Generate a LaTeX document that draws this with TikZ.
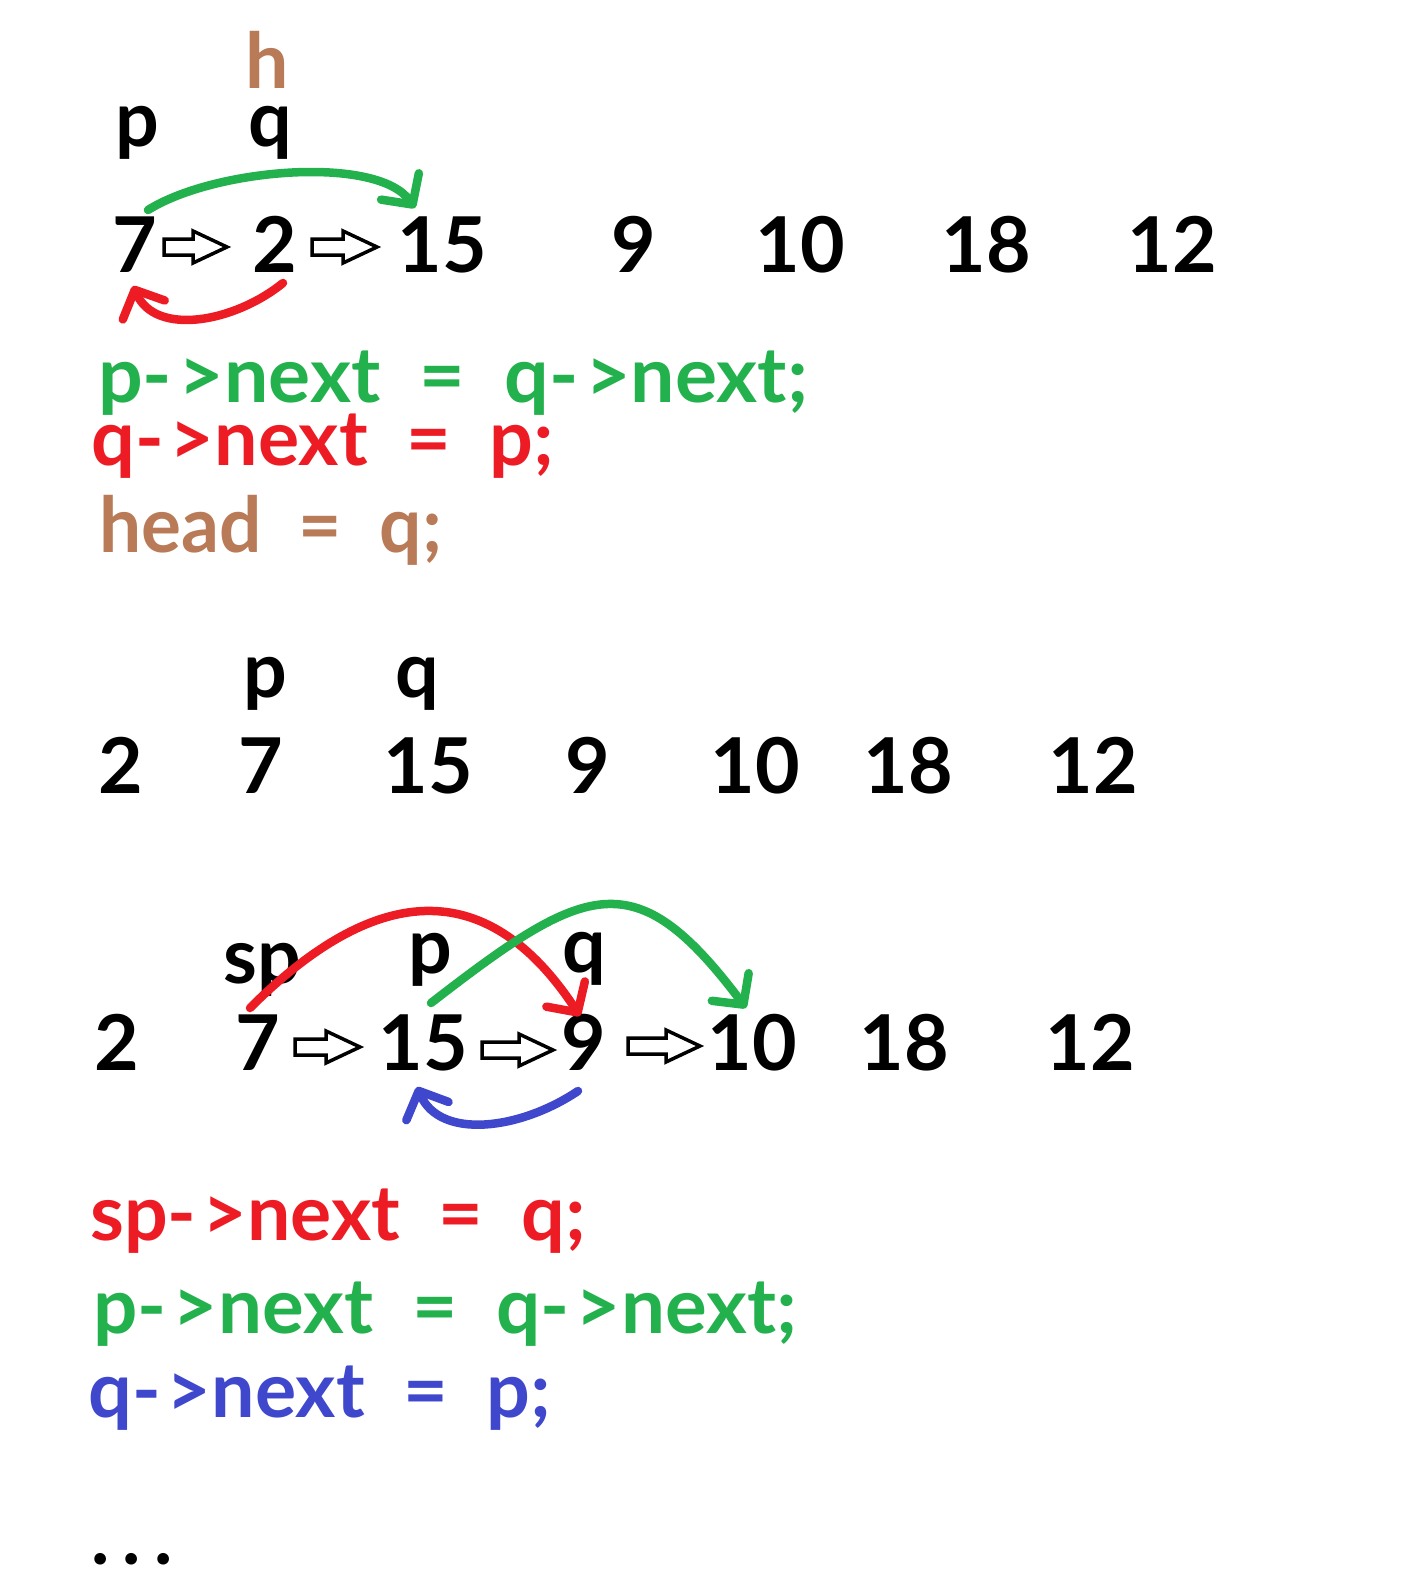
\documentclass[tikz,border=0pt]{standalone}
\usepackage{fontspec}
\setmainfont{Lato}
\usepackage{graphicx}
\usetikzlibrary{arrows.meta}
\definecolor{pgreen}{HTML}{22B14C}
\definecolor{pred}{HTML}{ED1C24}
\definecolor{pbrown}{HTML}{B97A57}
\definecolor{pblue}{HTML}{3F48CC}
\newcommand\bigf{\fontsize{77}{90}\selectfont\bfseries}
\newcommand\fitw[2]{\resizebox{#1}{\height}{#2}}
\newcommand\gap{\hspace{0.5em}}
\newcommand\arw{-\hspace{0.08em}>}
\begin{document}
\begin{tikzpicture}[x=1pt,y=-1pt,
  txt/.style={inner sep=0pt, anchor=base, font=\bigf},
  code/.style={inner sep=0pt, anchor=base west, font=\bigf},
  curve/.style={line width=8.5pt, line cap=round, -{Straight Barb[length=22pt,width=46pt,round]}},
  harrow/.pic={\draw[line width=3.5pt, line join=miter] (0,-8) -- ({#1-34},-8) -- ({#1-34},-16) -- (#1,0) -- ({#1-34},16) -- ({#1-34},8) -- (0,8) -- cycle;}
]
\fill[white] (0,0) rectangle (1402,1596);
\useasboundingbox (0,0) rectangle (1402,1596);

% ---------- Row 1 ----------
\node[txt, text=pbrown] (h1) at (267,88) {h};
\node[txt] (p1) at (137,146) {p};
\node[txt] (q1) at (270,146) {q};
\node[txt] (a7) at (135,272) {7};
\node[txt] (a2) at (275,272) {2};
\node[txt] (a15) at (442,272) {15};
\node[txt] (a9) at (634,272) {9};
\node[txt] (a10) at (800,272) {10};
\node[txt] (a18) at (986,272) {18};
\node[txt] (a12) at (1172,272) {12};
\pic at (164,247) {harrow=63};
\pic at (312,247) {harrow=65};

\coordinate (g1s) at (148,210);
\coordinate (g1e) at (415,208);
\draw[curve, pgreen] (g1s) .. controls (215,168) and (378,155) .. (g1e);
\coordinate (r1s) at (283,283);
\coordinate (r1e) at (133,286);
\draw[curve, pred] (r1s) .. controls (235,322) and (156,337) .. (r1e);

\node[code, text=pgreen] (c1) at (98,402) {\fitw{710pt}{p\arw next\gap=\gap q\arw next;}};
\node[code, text=pred] (c2) at (91,465) {\fitw{463pt}{q\arw next\gap=\gap p;}};
\node[code, text=pbrown] (c3) at (99,552) {\fitw{343pt}{head\gap=\gap q;}};

% ---------- Row 2 ----------
\node[txt] (p2) at (265,697) {p};
\node[txt] (q2) at (417,697) {q};
\node[txt] (b2) at (121,793) {2};
\node[txt] (b7) at (261,793) {7};
\node[txt] (b15) at (428,793) {15};
\node[txt] (b9) at (588,793) {9};
\node[txt] (b10) at (755,793) {10};
\node[txt] (b18) at (908,793) {18};
\node[txt] (b12) at (1093,793) {12};

% ---------- Row 3 ----------
\node[txt] (sp3) at (262,983) {sp};
\node[txt] (p3) at (430,973) {p};
\node[txt] (q3) at (584,972) {q};
\node[txt] (d2) at (117,1070) {2};
\node[txt] (d7) at (258,1070) {7};
\node[txt] (d15) at (423,1070) {15};
\node[txt] (d9) at (584,1070) {9};
\node[txt] (d10) at (752,1070) {10};
\node[txt] (d18) at (904,1070) {18};
\node[txt] (d12) at (1090,1070) {12};
\pic at (295,1047) {harrow=65};
\pic at (482,1050) {harrow=71};
\pic at (628,1046) {harrow=72};

\coordinate (r3s) at (250,1008);
\coordinate (r3e) at (580,1016);
\draw[curve, pred] (r3s) .. controls (372,886) and (485,871) .. (r3e);
\coordinate (g3s) at (431,1003);
\coordinate (g3e) at (746,1008);
\draw[curve, pgreen] (g3s) .. controls (586,883) and (635,860) .. (g3e);
\coordinate (b3s) at (578,1091);
\coordinate (b3e) at (417,1087);
\draw[curve, pblue] (b3s) .. controls (520,1130) and (440,1140) .. (b3e);

\node[code, text=pred] (c4) at (90,1240) {\fitw{496pt}{sp\arw next\gap=\gap q;}};
\node[code, text=pgreen] (c5) at (93,1333) {\fitw{704pt}{p\arw next\gap=\gap q\arw next;}};
\node[code, text=pblue] (c6) at (88,1417) {\fitw{463pt}{q\arw next\gap=\gap p;}};

\node[txt] (dots) at (132,1564) {\makebox[31.5pt]{.}\makebox[31.5pt]{.}\makebox[31.5pt]{.}};
\end{tikzpicture}
\end{document}
